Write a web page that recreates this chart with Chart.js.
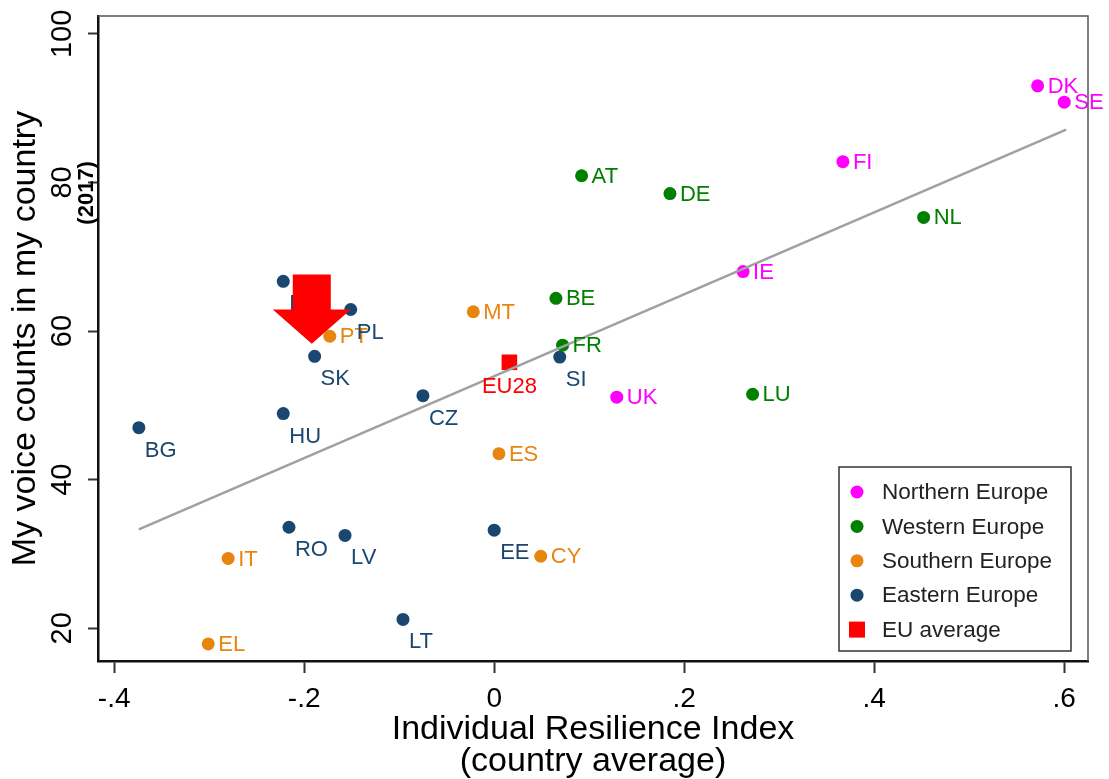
<!DOCTYPE html>
<html>
<head>
<meta charset="utf-8">
<script src="https://cdn.jsdelivr.net/npm/chart.js@4.4.1/dist/chart.umd.min.js"></script>
<style>
  body { margin: 0; background: #fff; }
  #wrap { width: 1109px; height: 779px; }
</style>
</head>
<body>
<div id="wrap"><canvas id="chart" width="1109" height="779"></canvas></div>
<script>
// country codes + values
const northCodes = ["DK", "SE", "FI", "IE", "UK"];
const northX = [0.572, 0.600, 0.367, 0.262, 0.129];
const northY = [93.0, 90.8, 82.8, 68.0, 51.1];

const westCodes = ["AT", "DE", "NL", "BE", "FR", "LU"];
const westX = [0.092, 0.185, 0.452, 0.065, 0.072, 0.272];
const westY = [80.9, 78.5, 75.3, 64.4, 58.1, 51.5];

const southCodes = ["MT", "PT", "ES", "CY", "IT", "EL"];
const southX = [-0.022, -0.173, 0.005, 0.049, -0.280, -0.301];
const southY = [62.6, 59.3, 43.5, 29.7, 29.4, 17.9];

const eastCodes = ["HR", "PL", "SK", "SI", "CZ", "HU", "BG", "EE", "RO", "LV", "LT"];
const eastX = [-0.222, -0.151, -0.189, 0.069, -0.075, -0.222, -0.374, 0.000, -0.216, -0.157, -0.096];
const eastY = [66.7, 62.9, 56.6, 56.5, 51.3, 48.9, 47.0, 33.2, 33.6, 32.5, 21.2];

const euCodes = ["EU28"];
const euX = [0.016];
const euY = [55.8];

// fitted line end points
const fitX = [-0.374, 0.602];
const fitY = [33.3, 87.1];

const xTicks = [-0.4, -0.2, 0, 0.2, 0.4, 0.6];
const xTickLabels = ["-.4", "-.2", "0", ".2", ".4", ".6"];
const yTicks = [20, 40, 60, 80, 100];

const FONT = '"Liberation Sans", Arial, sans-serif';
const colors = {
  north: "#ff00ff",
  west: "#008000",
  south: "#e8850f",
  east: "#1a476f",
  eu: "#ff0000",
};

function pts(xs, ys) {
  return xs.map((x, i) => ({ x: x, y: ys[i] }));
}

function group(label, codes, xs, ys, color, labelAt, style) {
  return {
    type: "scatter",
    label: label,
    codes: codes,
    labelAt: labelAt,
    data: pts(xs, ys),
    backgroundColor: color,
    borderWidth: 0,
    pointStyle: style || "circle",
    pointRadius: style === "rect" ? 11 : 6.5,
  };
}

// point labels, arrow, frame and legend box
const extras = {
  id: "extras",
  afterDatasetsDraw(chart) {
    const ctx = chart.ctx;
    ctx.save();
    ctx.font = "22px " + FONT;
    ctx.textBaseline = "middle";
    chart.data.datasets.forEach((ds, i) => {
      if (!ds.codes) return;
      const meta = chart.getDatasetMeta(i);
      ctx.fillStyle = ds.backgroundColor;
      meta.data.forEach((pt, j) => {
        const code = ds.codes[j];
        if (ds.labelAt === "right") {
          ctx.textAlign = "left";
          ctx.fillText(code, pt.x + 10, pt.y + 1);
        } else if (ds.labelAt === "below") {
          ctx.textAlign = "left";
          ctx.fillText(code, pt.x + 6, pt.y + 23);
        } else {
          ctx.textAlign = "center";
          ctx.fillText(code, pt.x, pt.y + 25);
        }
      });
    });
    ctx.restore();
  },
  afterDraw(chart) {
    const ctx = chart.ctx;
    const xs = chart.scales.x;
    const ys = chart.scales.y;
    const area = chart.chartArea;
    ctx.save();

    // red arrow pointing down at SK
    const tipX = xs.getPixelForValue(-0.192);
    const tipY = ys.getPixelForValue(58.3);
    const baseY = ys.getPixelForValue(62.9);
    const topY = ys.getPixelForValue(67.6);
    const shaft = 19, head = 39;
    ctx.fillStyle = "#ff0000";
    ctx.beginPath();
    ctx.moveTo(tipX - shaft, topY);
    ctx.lineTo(tipX + shaft, topY);
    ctx.lineTo(tipX + shaft, baseY);
    ctx.lineTo(tipX + head, baseY);
    ctx.lineTo(tipX, tipY);
    ctx.lineTo(tipX - head, baseY);
    ctx.lineTo(tipX - shaft, baseY);
    ctx.closePath();
    ctx.fill();

    // top and right frame
    ctx.strokeStyle = "#555";
    ctx.lineWidth = 1.5;
    ctx.beginPath();
    ctx.moveTo(area.left, area.top);
    ctx.lineTo(area.right, area.top);
    ctx.lineTo(area.right, area.bottom);
    ctx.stroke();

    // (2017) note next to the y title
    ctx.save();
    ctx.translate(area.left - 11, ys.getPixelForValue(78.6));
    ctx.rotate(-Math.PI / 2);
    ctx.font = "bold 22px " + FONT;
    ctx.fillStyle = "#000";
    ctx.textAlign = "center";
    ctx.textBaseline = "middle";
    ctx.fillText("(2017)", 0, 0);
    ctx.restore();

    // legend box
    const bw = 232, bh = 184;
    const bx = area.right - 17 - bw;
    const by = area.bottom - 10 - bh;
    ctx.fillStyle = "#fff";
    ctx.fillRect(bx, by, bw, bh);
    ctx.strokeStyle = "#333";
    ctx.lineWidth = 1.5;
    ctx.strokeRect(bx, by, bw, bh);
    ctx.font = "22.5px " + FONT;
    ctx.textAlign = "left";
    ctx.textBaseline = "middle";
    const items = chart.data.datasets.filter((d) => d.codes);
    items.forEach((d, k) => {
      const cy = by + 25 + k * 34.4;
      const cx = bx + 18;
      ctx.fillStyle = d.backgroundColor;
      if (d.pointStyle === "rect") {
        ctx.fillRect(cx - 8, cy - 8, 16, 16);
      } else {
        ctx.beginPath();
        ctx.arc(cx, cy, 6.5, 0, Math.PI * 2);
        ctx.fill();
      }
      ctx.fillStyle = "#222";
      ctx.fillText(d.label, bx + 43, cy + 1);
    });
    ctx.restore();
  },
};

new Chart(document.getElementById("chart"), {
  data: {
    datasets: [
      {
        type: "line",
        label: "fit",
        data: pts(fitX, fitY),
        borderColor: "#a0a0a0",
        borderWidth: 2.5,
        pointRadius: 0,
        fill: false,
      },
      group("Northern Europe", northCodes, northX, northY, colors.north, "right"),
      group("Western Europe", westCodes, westX, westY, colors.west, "right"),
      group("Southern Europe", southCodes, southX, southY, colors.south, "right"),
      group("Eastern Europe", eastCodes, eastX, eastY, colors.east, "below"),
      group("EU average", euCodes, euX, euY, colors.eu, "center", "rect"),
    ],
  },
  options: {
    responsive: false,
    animation: false,
    layout: { padding: { top: 16, right: 21, left: 0, bottom: 0 } },
    plugins: { legend: { display: false }, tooltip: { enabled: false } },
    scales: {
      x: {
        type: "linear",
        min: -0.417,
        max: 0.625,
        afterBuildTicks: (s) => { s.ticks = xTicks.map((v) => ({ value: v })); },
        afterFit: (s) => { s.height = 118; s.paddingLeft = 0; s.paddingRight = 0; },
        border: { color: "#111", width: 2.5 },
        grid: { drawOnChartArea: false, tickLength: 12, tickWidth: 2, color: "#333" },
        ticks: {
          color: "#000",
          padding: 9,
          font: { family: FONT, size: 28 },
          callback: (v) => {
            const i = xTicks.findIndex((t) => Math.abs(t - v) < 1e-9);
            return i >= 0 ? xTickLabels[i] : "";
          },
        },
        title: {
          display: true,
          text: ["Individual Resilience Index", "(country average)"],
          color: "#000",
          font: { family: FONT, size: 34, lineHeight: 0.95 },
          padding: { top: 0, bottom: 1 },
        },
      },
      y: {
        type: "linear",
        min: 15.6,
        max: 102.4,
        afterBuildTicks: (s) => { s.ticks = yTicks.map((v) => ({ value: v })); },
        afterFit: (s) => { s.width = 98; s.paddingTop = 0; s.paddingBottom = 0; },
        border: { color: "#111", width: 2.5 },
        grid: { drawOnChartArea: false, tickLength: 10, tickWidth: 2, color: "#333" },
        ticks: {
          color: "#000",
          padding: 1,
          minRotation: 90,
          maxRotation: 90,
          crossAlign: "center",
          font: { family: FONT, size: 29 },
        },
        title: {
          display: true,
          text: "My voice counts in my country",
          color: "#000",
          font: { family: FONT, size: 34, lineHeight: 1.0 },
          padding: { top: 9, bottom: 0 },
        },
      },
    },
  },
  plugins: [extras],
});
</script>
</body>
</html>
